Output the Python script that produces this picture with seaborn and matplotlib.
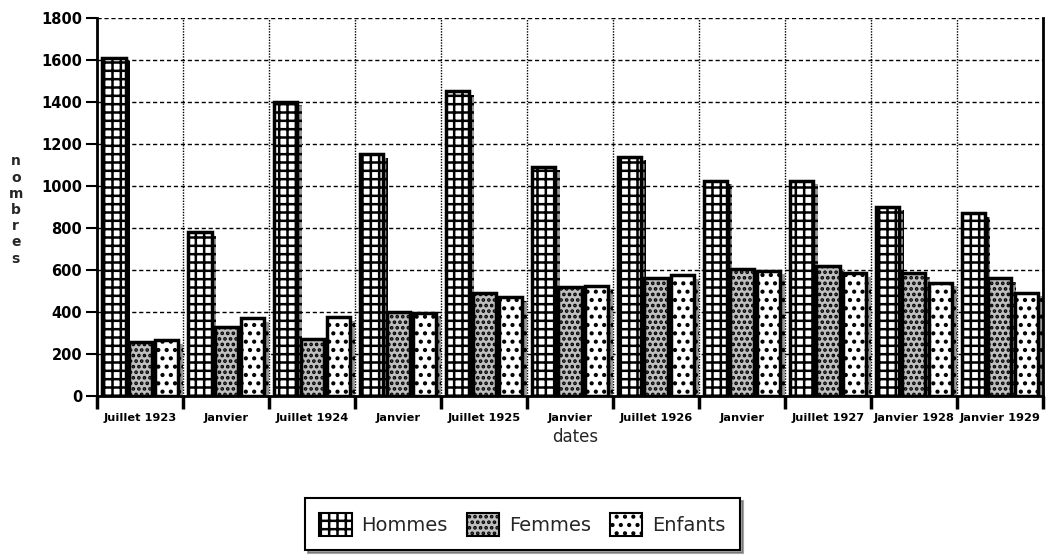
import numpy as np
import pandas as pd
import matplotlib
matplotlib.use("Agg")
import matplotlib.pyplot as plt
import matplotlib.patches as mpatches
from matplotlib import patheffects as pe
import seaborn as sns

# Periods (unique keys) and the labels printed under each group
periodes = ["1923-07", "1924-01", "1924-07", "1925-01", "1925-07", "1926-01",
            "1926-07", "1927-01", "1927-07", "1928-01", "1929-01"]
etiquettes = ["Juillet 1923", "Janvier", "Juillet 1924", "Janvier", "Juillet 1925",
              "Janvier", "Juillet 1926", "Janvier", "Juillet 1927", "Janvier 1928",
              "Janvier 1929"]
groupes = ["Hommes", "Femmes", "Enfants"]

hommes = [1610, 780, 1400, 1150, 1450, 1090, 1140, 1025, 1025, 900, 870]
femmes = [255, 330, 270, 400, 490, 520, 560, 605, 620, 585, 560]
enfants = [265, 370, 375, 395, 470, 525, 575, 595, 585, 540, 490]

df = pd.DataFrame({
    "periode": periodes * 3,
    "groupe": [g for g in groupes for _ in periodes],
    "nombre": hommes + femmes + enfants,
})

sns.set_theme(style="white")
plt.rcParams["font.family"] = ["DejaVu Sans"]
plt.rcParams["hatch.linewidth"] = 1.8

fig = plt.figure(figsize=(10.47, 5.6), dpi=100)
ax = fig.add_axes([0.093, 0.293, 0.903, 0.675])

faces = ["white", "0.75", "white"]
hachures = ["++", "...", ".."]

sns.barplot(data=df, x="periode", y="nombre", hue="groupe", order=periodes,
            hue_order=groupes, palette=faces, saturation=1, width=0.92, gap=0.12,
            edgecolor="black", linewidth=2.5, legend=False, ax=ax)

ombre = [pe.SimplePatchShadow(offset=(3.5, -2.5), shadow_rgbFace="0.6", alpha=1),
         pe.Normal()]
for conteneur, h in zip(ax.containers, hachures):
    for barre in conteneur:
        barre.set_hatch(h)
        barre.set_path_effects(ombre)

ax.set_xlim(-0.5, len(periodes) - 0.5)
ax.set_ylim(0, 1800)
ax.set_yticks(range(0, 1801, 200))
ax.set_xticks(range(len(periodes)))
ax.set_xticklabels(etiquettes, fontsize=8.2, fontweight="bold")
ax.set_xticks(np.arange(-0.5, len(periodes), 1), minor=True)

ax.set_axisbelow(True)
ax.yaxis.grid(True, linestyle=(0, (3, 2)), color="black", linewidth=1)
ax.xaxis.grid(False, which="major")
ax.xaxis.grid(True, which="minor", linestyle=(0, (1, 1)), color="black", linewidth=1)

for cote in ["left", "right", "bottom"]:
    ax.spines[cote].set_visible(True)
    ax.spines[cote].set_color("black")
    ax.spines[cote].set_linewidth(2)
ax.spines["top"].set_visible(False)

ax.tick_params(axis="y", which="major", left=True, length=8, width=1.5,
               direction="out", labelsize=10.5, colors="black", pad=3)
for t in ax.get_yticklabels():
    t.set_fontweight("bold")
ax.tick_params(axis="x", which="major", bottom=False, length=0, pad=12, colors="black")
ax.tick_params(axis="x", which="minor", bottom=True, length=9, width=2.5,
               direction="out", colors="black")

ax.set_xlabel("")
ax.set_ylabel("")
fig.text(0.549, 0.22, "dates", ha="center", va="center", fontsize=12)
fig.text(0.015, 0.625, "n\no\nm\nb\nr\ne\ns", ha="center", va="center",
         fontsize=10, fontweight="bold", linespacing=1.2)

poignees = [mpatches.Patch(facecolor=f, edgecolor="black", hatch=h, linewidth=1.5)
            for f, h in zip(faces, hachures)]
leg = fig.legend(poignees, groupes, loc="center", bbox_to_anchor=(0.499, 0.064), ncol=3,
                 frameon=True, fancybox=False, shadow=True, edgecolor="black",
                 fontsize=14, handlelength=1.65, handleheight=1.45, columnspacing=1.0,
                 handletextpad=0.5, borderpad=0.75, borderaxespad=0)
leg.get_frame().set_linewidth(1.5)

fig.savefig("out.png", dpi=100)
